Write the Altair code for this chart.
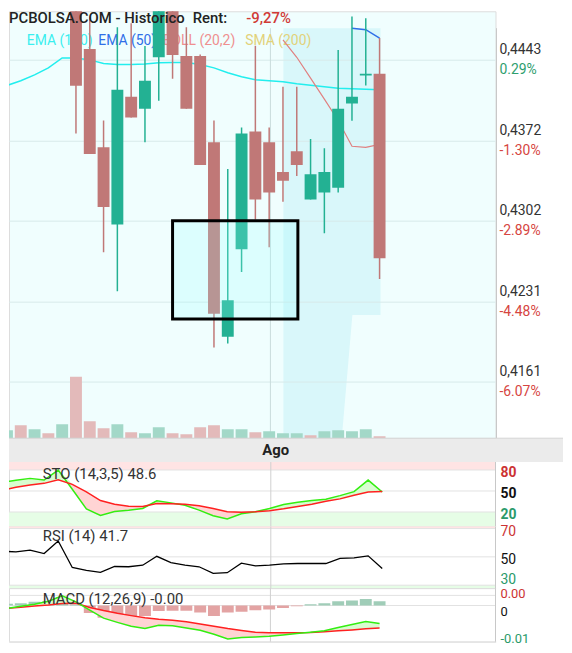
import altair as alt
import pandas as pd

# ---------------- data ----------------
DAYS = list(range(1, 29))          # sessions shown (1..28)
CANDLE_DAYS = list(range(6, 29))   # sessions whose candles fall in the price window

OPEN = [0.4510, 0.44528, 0.43667, 0.42991, 0.44111, 0.44006, 0.44456, 0.4500, 0.44467, 0.44467, 0.43711,
        0.42006, 0.42774, 0.43806, 0.43711, 0.43450, 0.43632, 0.43209, 0.43270, 0.43313, 0.44052, 0.44296, 0.44311]
HIGH = [0.4520, 0.44813, 0.43902, 0.44720, 0.44755, 0.44554, 0.4510, 0.4510, 0.44720, 0.44480, 0.43902,
        0.43478, 0.43841, 0.44557, 0.43841, 0.44198, 0.44198, 0.43739, 0.43658, 0.44520, 0.44813, 0.44798, 0.44624]
LOW = [0.43789, 0.43609, 0.42748, 0.42406, 0.43928, 0.43711, 0.44076, 0.44267, 0.44006, 0.43513, 0.41913,
       0.41947, 0.42574, 0.43035, 0.42791, 0.43189, 0.43415, 0.43209, 0.42913, 0.43270, 0.43899, 0.44209, 0.42513]
CLOSE = [0.44206, 0.43609, 0.43145, 0.44172, 0.43928, 0.44250, 0.4500, 0.44476, 0.44006, 0.43513, 0.42208,
         0.42327, 0.43789, 0.43209, 0.43270, 0.43374, 0.43513, 0.43432, 0.43450, 0.44006, 0.44111, 0.44311, 0.42695]

VOLUME = [8, 13, 9, 5, 14, 62, 17, 10, 14, 6, 5, 11, 5, 4, 11, 13, 9, 9, 6, 7, 5, 5, 3, 7, 8, 7, 9, 2]
VOLUME_UP = [1, 0, 1, 0, 1, 0, 0, 0, 1, 0, 1, 1, 0, 0, 0, 0, 1, 1, 0, 1, 1, 1, 0, 1, 1, 1, 1, 0]

EMA100 = [0.44209, 0.4425, 0.44302, 0.44363, 0.4445, 0.4445, 0.44433, 0.44402, 0.44393, 0.44392, 0.44398,
          0.44407, 0.44411, 0.44411, 0.44393, 0.44363, 0.4432, 0.44285, 0.44259, 0.4425, 0.44241, 0.44224,
          0.44211, 0.44198, 0.44185, 0.4418, 0.44176, 0.44172]
EMA50_DAYS = [26, 27, 28]
EMA50 = [0.44711, 0.44698, 0.44624]
BOLL_DAYS = [21, 22, 23, 24, 25, 26, 27, 28]
BOLL = [0.44609, 0.44456, 0.44273, 0.44089, 0.43902, 0.43676, 0.43667, 0.43693]

STO_K = [61.9, 65.4, 68.0, 65.6, 79.8, 52.4, 24.5, 15.1, 20.7, 22.6, 25.0, 35.9, 33.0, 29.7, 22.6, 14.6,
         9.9, 17.4, 20.3, 25.0, 30.7, 34.0, 36.3, 38.2, 43.4, 49.1, 65.6, 48.6]
STO_D = [51.0, 55.2, 58.6, 60.9, 66.1, 59.5, 48.6, 36.3, 31.1, 28.3, 27.8, 32.1, 31.6, 31.1, 28.8, 25.0,
         20.3, 19.5, 20.3, 21.7, 24.5, 27.8, 31.1, 35.4, 38.7, 43.9, 48.6, 49.1]
RSI = [54.0, 53.5, 54.7, 52.3, 61.2, 42.5, 40.4, 39.0, 43.2, 43.0, 44.1, 50.4, 46.0, 44.1, 43.0, 38.3,
       38.8, 45.5, 43.7, 44.1, 45.1, 45.3, 45.3, 45.3, 49.0, 49.3, 50.7, 41.7]
MACD = [-0.00077, -0.00023, 0.00033, 0.00116, 0.00265, 0.0010, -0.0013, -0.00349, -0.00465, -0.00572,
        -0.00635, -0.00542, -0.00558, -0.00619, -0.00681, -0.00791, -0.00921, -0.00884, -0.00867, -0.00851,
        -0.00814, -0.00774, -0.00735, -0.00698, -0.00605, -0.00526, -0.00442, -0.00495]
MACD_SIGNAL = [-0.00077, -0.00047, -0.00014, 0.00016, 0.00056, 0.00063, -0.00053, -0.0014, -0.00216,
               -0.00279, -0.0034, -0.00379, -0.00409, -0.00449, -0.00512, -0.00572, -0.00635, -0.00688,
               -0.00735, -0.00751, -0.00751, -0.00751, -0.00744, -0.00721, -0.00698, -0.00674, -0.00642, -0.00619]
MACD_HIST = [0.00047, 0.00063, 0.00102, 0.00126, 0.00233, 0.0003, -0.00209, -0.0034, -0.00326, -0.00349,
             -0.00286, -0.00153, -0.00147, -0.00147, -0.00193, -0.00286, -0.00193, -0.0017, -0.0013, -0.00107,
             -0.0007, -0.00023, 0.00033, 0.00063, 0.00116, 0.0014, 0.00179, 0.00116]

AUG_START = 20.09
PRICE_TICKS = [0.4443, 0.4372, 0.4302, 0.4231, 0.4161]
PRICE_TICK_LABELS = ["0,4443", "0,4372", "0,4302", "0,4231", "0,4161"]
PCT_LABELS = ["0.29%", "-1.30%", "-2.89%", "-4.48%", "-6.07%"]

# annotation regions in data coordinates (session index, price)
SHADE_X = [21.03, 28.07]
SHADE_P = [0.44711, 0.42197]
SHADE_FOOT_P = [0.42197, 0.41118]
SHADE_FOOT_RIGHT = [26.03, 25.26]
BOX_X = [13.0, 22.08]
BOX_P = [0.43023, 0.42162]

LEGEND = ["EMA (100)", "EMA (50)", "BOLL (20,2)", "SMA (200)"]

# ---------------- styling / layout ----------------
FONT = "Roboto"
W = 490
RIGHT_EDGE = 558
H_MAIN, H_BAND, H_STO, H_RSI, H_MACD = 430, 24, 65, 62, 54
BG_MAIN = "#f0fefe"
SHADE = "#d9f7fa"
C_UP, C_DOWN = "#23b193", "#c07877"
V_UP, V_DOWN = "#a3d8c8", "#e3baba"
TXT_RED, TXT_GREEN = "#d64541", "#2e9e6e"
LEGEND_COLORS = ["#3aefef", "#2f6fe8", "#ef8f8f", "#e2d27a"]
LEGEND_X = [18, 90, 155, 238]
P_MIN, P_MAX = 0.41118, 0.44859

xsc = alt.Scale(domain=[1.507, 36.04], nice=False, zero=False)


def X(f="i"):
    return alt.X(f"{f}:Q", scale=xsc, axis=None)


def Y(f, sc):
    return alt.Y(f"{f}:Q", scale=sc, axis=None)


psc = alt.Scale(domain=[P_MIN, P_MAX], nice=False, zero=False)

# ---------------- main price panel ----------------
cdf = pd.DataFrame({"i": CANDLE_DAYS, "o": OPEN, "h": HIGH, "l": LOW, "c": CLOSE})
cdf["col"] = [C_UP if c >= o else C_DOWN for o, c in zip(OPEN, CLOSE)]
vdf = pd.DataFrame({"i": DAYS, "v": VOLUME, "col": [V_UP if u else V_DOWN for u in VOLUME_UP]})

shade_top = alt.Chart(pd.DataFrame({"x1": [SHADE_X[0]], "x2": [SHADE_X[1]], "p1": [SHADE_P[0]], "p2": [SHADE_P[1]]})
                      ).mark_rect(color=SHADE, clip=True).encode(x=X("x1"), x2="x2:Q", y=Y("p1", psc), y2="p2:Q")
shade_foot = alt.Chart(pd.DataFrame({"p": SHADE_FOOT_P, "xl": [SHADE_X[0]] * 2, "xr": SHADE_FOOT_RIGHT})
                       ).mark_area(orient="horizontal", color=SHADE, clip=True).encode(
    y=Y("p", psc), x=X("xl"), x2="xr:Q")
grid = alt.Chart(pd.DataFrame({"p": PRICE_TICKS})).mark_rule(color="#d8eaea", strokeWidth=1).encode(y=Y("p", psc))
aug = alt.Chart(pd.DataFrame({"i": [AUG_START], "p1": [SHADE_P[0]], "p2": [P_MIN]})).mark_rule(
    color="#c9dcdc").encode(x=X(), y=Y("p1", psc), y2="p2:Q")
vol = alt.Chart(vdf).mark_bar(size=12, clip=True).encode(
    x=X(), y=alt.Y("v:Q", scale=alt.Scale(domain=[0, H_MAIN], nice=False), axis=None),
    color=alt.Color("col:N", scale=None))

legend_layers = [
    alt.Chart(pd.DataFrame({"t": [t]})).mark_text(align="left", baseline="middle", font=FONT, fontSize=14,
                                                  color=c).encode(x=alt.value(x), y=alt.value(30), text="t:N")
    for t, c, x in zip(LEGEND, LEGEND_COLORS, LEGEND_X)
]

ema100 = alt.Chart(pd.DataFrame({"i": DAYS, "v": EMA100})).mark_line(
    color="#22eeee", strokeWidth=1.5, clip=True).encode(x=X(), y=Y("v", psc))
ema50 = alt.Chart(pd.DataFrame({"i": EMA50_DAYS, "v": EMA50})).mark_line(
    color="#2f6fe8", strokeWidth=1.5, clip=True).encode(x=X(), y=Y("v", psc))
boll = alt.Chart(pd.DataFrame({"i": BOLL_DAYS, "v": BOLL})).mark_line(
    color="#e08080", strokeWidth=1.2, clip=True).encode(x=X(), y=Y("v", psc))

wicks = alt.Chart(cdf).mark_rule(strokeWidth=1.5, clip=True).encode(
    x=X(), y=Y("l", psc), y2="h:Q", color=alt.Color("col:N", scale=None))
bodies = alt.Chart(cdf).mark_bar(size=12, clip=True).encode(
    x=X(), y=Y("o", psc), y2="c:Q", color=alt.Color("col:N", scale=None))

box = alt.Chart(pd.DataFrame({"x1": [BOX_X[0]], "x2": [BOX_X[1]], "p1": [BOX_P[0]], "p2": [BOX_P[1]]})).mark_rect(
    fill="#96ffff", fillOpacity=0.22, stroke="black", strokeWidth=3).encode(
    x=X("x1"), x2="x2:Q", y=Y("p1", psc), y2="p2:Q")


def title_text(t, x, color):
    return alt.Chart(pd.DataFrame({"t": [t]})).mark_text(
        align="left", baseline="top", font=FONT, fontSize=15, fontWeight=500, color=color).encode(
        x=alt.value(x), y=alt.value(0), text="t:N")


titles = [title_text("PCBOLSA.COM - Historico", 0, "#222"), title_text("Rent:", 185, "#222"),
          title_text("-9,27%", 239, "#d03a36")]

rl = pd.DataFrame({"p": PRICE_TICKS, "lbl": PRICE_TICK_LABELS, "pct": PCT_LABELS,
                   "pc": [TXT_RED if s.startswith("-") else TXT_GREEN for s in PCT_LABELS]})
price_lbl = alt.Chart(rl).mark_text(align="left", baseline="middle", dy=-10, font=FONT, fontSize=14,
                                    color="#333").encode(x=alt.value(W + 4), y=Y("p", psc), text="lbl:N")
pct_lbl = alt.Chart(rl).mark_text(align="left", baseline="middle", dy=10, font=FONT, fontSize=14).encode(
    x=alt.value(W + 4), y=Y("p", psc), text="pct:N", color=alt.Color("pc:N", scale=None))
rborder = alt.Chart(pd.DataFrame({"p1": [SHADE_P[0]], "p2": [P_MIN]})).mark_rule(color="#c8c8c8").encode(
    x=alt.value(W + 1), y=Y("p1", psc), y2="p2:Q")

main = alt.layer(
    shade_top, shade_foot, grid, aug, vol, *legend_layers, ema100, ema50, boll, wicks, bodies, box,
    *titles, price_lbl, pct_lbl, rborder
).resolve_scale(y="independent").properties(width=W, height=H_MAIN, view=alt.ViewBackground(fill=BG_MAIN))

# ---------------- month band ----------------
band = alt.layer(
    alt.Chart(pd.DataFrame({"a": [0]})).mark_rect(color="#ebebeb").encode(
        x=alt.value(0), x2=alt.value(RIGHT_EDGE), y=alt.value(0), y2=alt.value(H_BAND)),
    alt.Chart(pd.DataFrame({"a": [0]})).mark_rule(color="#d4d4d4").encode(
        x=alt.value(0), x2=alt.value(RIGHT_EDGE), y=alt.value(0)),
    alt.Chart(pd.DataFrame({"i": [AUG_START], "t": ["Ago"]})).mark_text(
        font=FONT, fontSize=15, fontWeight="bold", color="#222", dx=5, baseline="middle").encode(
        x=X(), y=alt.value(H_BAND / 2), text="t:N"),
).properties(width=W, height=H_BAND)


# ---------------- indicator panels ----------------
def panel(height, domain, zones, grid_vals, labels, title, title_y, series_fn, label_size, label_weight):
    sc = alt.Scale(domain=domain, nice=False, zero=False)
    layers = [
        # white strip behind the right-hand labels
        alt.Chart(pd.DataFrame({"a": [0]})).mark_rect(color="white").encode(
            x=alt.value(W), x2=alt.value(RIGHT_EDGE), y=alt.value(0), y2=alt.value(height))
    ]
    for lo, hi, col in zones:
        layers.append(alt.Chart(pd.DataFrame({"a": [lo], "b": [hi]})).mark_rect(color=col).encode(
            x=alt.value(0), x2=alt.value(W), y=Y("a", sc), y2="b:Q"))
    layers.append(alt.Chart(pd.DataFrame({"g": grid_vals})).mark_rule(color="#e2e2e2").encode(y=Y("g", sc)))
    layers.append(alt.Chart(pd.DataFrame({"i": [AUG_START]})).mark_rule(color="#d0d0d0").encode(x=X()))
    layers += series_fn(sc)
    layers.append(alt.Chart(pd.DataFrame({"t": [title]})).mark_text(
        align="left", baseline="middle", font=FONT, fontSize=15, color="#333").encode(
        x=alt.value(34), y=alt.value(title_y), text="t:N"))
    for v, t, c, dy in labels:
        layers.append(alt.Chart(pd.DataFrame({"v": [v], "t": [t]})).mark_text(
            align="left", baseline="middle", dy=dy, font=FONT, fontSize=label_size, fontWeight=label_weight,
            color=c).encode(x=alt.value(W + 5), y=Y("v", sc), text="t:N"))
    layers.append(alt.Chart(pd.DataFrame({"a": [0]})).mark_rule(color="#c8c8c8").encode(x=alt.value(W)))
    return alt.layer(*layers).properties(width=W, height=height, view=alt.ViewBackground(fill="white"))


def cross_fill(df, a, b, sc, pink, green):
    base = alt.Chart(df).transform_calculate(hi=f"max(datum.{a}, datum.{b})")
    return [
        base.mark_area(color=pink, clip=True).encode(x=X(), y=Y(a, sc), y2="hi:Q"),
        base.mark_area(color=green, clip=True).encode(x=X(), y=Y(b, sc), y2="hi:Q"),
    ]


def sto_series(sc):
    df = pd.DataFrame({"i": DAYS, "k": STO_K, "d": STO_D})
    return cross_fill(df, "k", "d", sc, "#ffd4d4", "#d8fdd0") + [
        alt.Chart(df).mark_line(color="#33ee11", strokeWidth=1.5, clip=True).encode(x=X(), y=Y("k", sc)),
        alt.Chart(df).mark_line(color="#ff2020", strokeWidth=1.5, clip=True).encode(x=X(), y=Y("d", sc)),
    ]


def rsi_series(sc):
    df = pd.DataFrame({"i": DAYS, "r": RSI})
    return [alt.Chart(df).mark_line(color="black", strokeWidth=1.3, clip=True).encode(x=X(), y=Y("r", sc))]


def macd_series(sc):
    hdf = pd.DataFrame({"i": DAYS, "h": MACD_HIST, "z": [0.0] * len(DAYS),
                        "c": ["#a0cdb8" if h >= 0 else "#e3a3a3" for h in MACD_HIST]})
    df = pd.DataFrame({"i": DAYS, "m": MACD, "s": MACD_SIGNAL})
    return [
        alt.Chart(hdf).mark_bar(size=12, clip=True).encode(x=X(), y=Y("h", sc), y2="z:Q",
                                                           color=alt.Color("c:N", scale=None)),
    ] + cross_fill(df, "m", "s", sc, "#ffd4d4", "#d8fdd0") + [
        alt.Chart(df).mark_line(color="#ff2020", strokeWidth=1.5, clip=True).encode(x=X(), y=Y("s", sc)),
        alt.Chart(df).mark_line(color="#33ee11", strokeWidth=1.5, clip=True).encode(x=X(), y=Y("m", sc)),
    ]


STO_DOM = [-0.85, 91.35]
sto = panel(H_STO, STO_DOM, [(80, STO_DOM[1], "#ffe4e4"), (STO_DOM[0], 20, "#e6fde6")], [80, 50, 20],
            [(80, "80", "#cc3333", 3), (50, "50", "#111111", 3), (20, "20", "#2a9a6a", 3)],
            "STO (14,3,5) 48.6", 12, sto_series, 14, "bold")

RSI_DOM = [27.9, 71.4]
rsi = panel(H_RSI, RSI_DOM, [(70, RSI_DOM[1], "#ffe4e4"), (RSI_DOM[0], 30, "#e6fde6")], [70, 50, 30],
            [(70, "70", "#cc3333", 3), (50, "50", "#111111", 3), (30, "30", "#2a9a6a", -5)],
            "RSI (14) 41.7", 10, rsi_series, 14, "normal")

MACD_DOM = [-0.0100, 0.0048]
macd = panel(H_MACD, MACD_DOM, [], [0.0028, 0, -0.01],
             [(0.0028, "0.00", "#cc3333", -1), (0, "0", "#111111", 7), (-0.01, "-0.01", "#2a9a6a", -3)],
             "MACD (12,26,9) -0.00", 11, macd_series, 13, "normal")

chart = alt.vconcat(main, band, sto, rsi, macd).properties(
    spacing=0, bounds="flush", padding=0
).configure_view(strokeWidth=0).configure(background="white")

chart.save("out.html", embed_options={"renderer": "svg", "actions": False})
